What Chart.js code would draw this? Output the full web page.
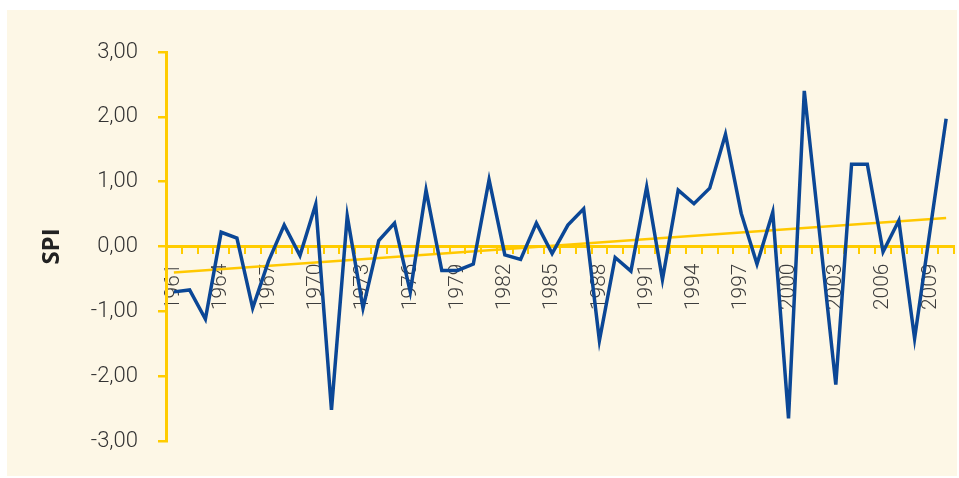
<!DOCTYPE html>
<html lang="pt">
<head>
  <meta charset="UTF-8">
  <title>SPI 1961-2010</title>
  <script src="https://cdn.jsdelivr.net/npm/chart.js"></script>
  <style>
    * { box-sizing: border-box; margin: 0; padding: 0; }
    body { background: #fff; width: 959px; height: 478px; overflow: hidden; }
    /* painel creme */
    .panel {
      position: absolute;
      left: 7px; top: 10px;
      width: 950px; height: 466px;
      background: #fdf7e6;
    }
  </style>
</head>
<body>
  <div class="panel">
    <canvas id="spiChart" width="950" height="466"></canvas>
  </div>

  <script>
    // anos (categorias)
    const years = [
      '1961','1962','1963','1964','1965','1966','1967','1968','1969','1970',
      '1971','1972','1973','1974','1975','1976','1977','1978','1979','1980',
      '1981','1982','1983','1984','1985','1986','1987','1988','1989','1990',
      '1991','1992','1993','1994','1995','1996','1997','1998','1999','2000',
      '2001','2002','2003','2004','2005','2006','2007','2008','2009','2010'
    ];

    // valores SPI
    const spiValues = [
      -0.70, -0.67, -1.12,  0.22,  0.13, -0.95, -0.23,  0.33, -0.14,  0.65,
      -2.52,  0.47, -0.95,  0.09,  0.36, -0.70,  0.87, -0.37, -0.37, -0.27,
       1.03, -0.13, -0.20,  0.36, -0.11,  0.33,  0.58, -1.45, -0.17, -0.38,
       0.92, -0.51,  0.87,  0.66,  0.90,  1.73,  0.51, -0.27,  0.53, -2.65,
       2.40,  0.14, -2.13,  1.27,  1.27, -0.08,  0.40, -1.42,  0.28,  1.97
    ];

    // linha de tendência: extremos
    const trendYears  = ['1961', '2010'];
    const trendValues = [-0.40, 0.44];

    // rótulos do eixo y
    const yTicks = [-3, -2, -1, 0, 1, 2, 3];

    const yellow = '#ffcc00';
    const blue   = '#0b4796';

    const ctx = document.getElementById('spiChart').getContext('2d');

    new Chart(ctx, {
      type: 'line',
      data: {
        labels: years,
        datasets: [
          {
            label: 'SPI',
            data: spiValues,
            borderColor: blue,
            borderWidth: 3.5,
            pointRadius: 0,
            tension: 0,
            order: 1
          },
          {
            label: 'Tendência',
            data: trendYears.map((y, i) => ({ x: y, y: trendValues[i] })),
            borderColor: '#ffc800',
            borderWidth: 2.5,
            pointRadius: 0,
            order: 2
          }
        ]
      },
      options: {
        responsive: false,
        animation: false,
        layout: { padding: { top: 42, bottom: 35, right: 3, left: 0 } },
        plugins: {
          legend: { display: false },
          tooltip: { enabled: false }
        },
        scales: {
          x: {
            type: 'category',
            position: { y: 0 },
            offset: true,
            // sem margem extra dos rótulos rodados
            afterFit: (scale) => { scale.paddingLeft = 0; scale.paddingRight = 0; },
            grid: {
              offset: true,
              drawOnChartArea: false,
              drawTicks: true,
              tickLength: 6,
              color: yellow,
              lineWidth: 2
            },
            border: { display: true, color: yellow, width: 3 },
            ticks: {
              autoSkip: false,
              maxRotation: 90,
              minRotation: 90,
              padding: 11,
              color: '#3d3d3d',
              font: { family: 'Roboto', size: 21, weight: 300 },
              callback: function (val, i) { return i % 3 === 0 ? years[i] : ''; }
            }
          },
          y: {
            min: -3,
            max: 3,
            afterBuildTicks: (scale) => { scale.ticks = yTicks.map(v => ({ value: v })); },
            afterFit: (scale) => { scale.width = 159; },
            title: {
              display: true,
              text: 'SPI',
              color: '#222',
              padding: { top: 31, bottom: 0 },
              font: { family: 'Open Sans', size: 24, weight: 'bold', lineHeight: 1.2 }
            },
            grid: {
              drawOnChartArea: false,
              drawTicks: true,
              tickLength: 8,
              color: yellow,
              lineWidth: 2.5
            },
            border: { display: true, color: yellow, width: 3 },
            ticks: {
              padding: 20,
              color: '#333',
              font: { family: 'Roboto', size: 22, weight: 300 },
              callback: (v) => v.toFixed(2).replace('.', ',')
            }
          }
        }
      }
    });
  </script>
</body>
</html>
